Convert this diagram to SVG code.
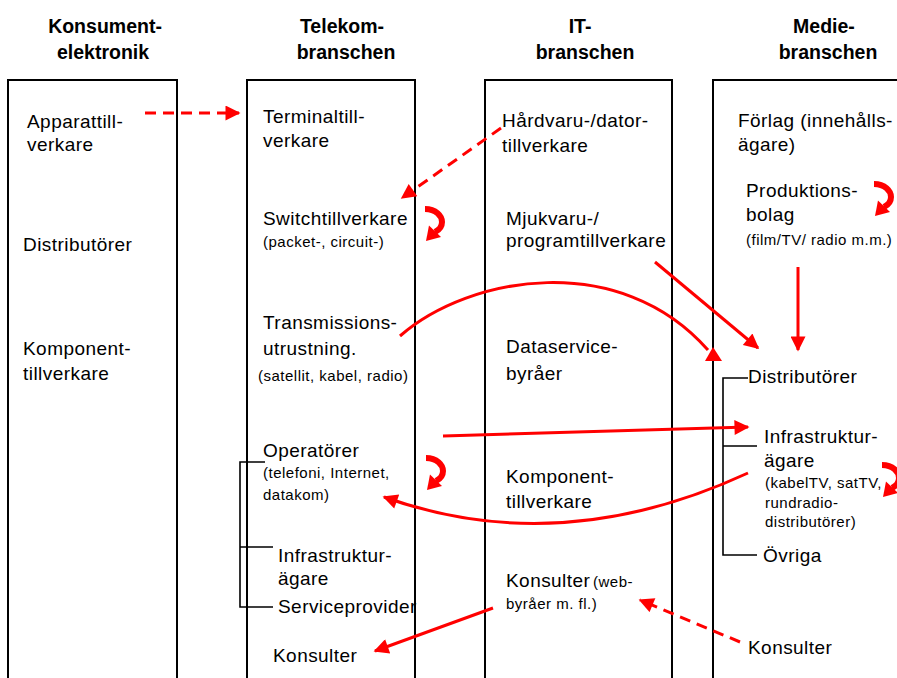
<svg xmlns="http://www.w3.org/2000/svg" width="897" height="678" viewBox="0 0 897 678">
  <style>
    .hdr { font-family: "Liberation Sans", Arial, sans-serif; font-weight: bold; font-size: 19.5px; fill: #000; text-anchor: middle; }
    .t { font-family: "Liberation Sans", Arial, sans-serif; font-size: 19px; letter-spacing: 0.45px; fill: #000; }
    .s { font-family: "Liberation Sans", Arial, sans-serif; font-size: 15px; letter-spacing: 0.5px; fill: #000; }
    .col { fill: none; stroke: #000; stroke-width: 2; }
    .br { fill: none; stroke: #000; stroke-width: 1.6; }
    .arr { fill: none; stroke: #ff0000; stroke-width: 3; marker-end: url(#head); }
    .dash { stroke-dasharray: 11 7; }
    .u { fill: none; stroke: #ff0000; stroke-width: 6; stroke-linecap: butt; }
  </style>
  <defs>
    <marker id="head" viewBox="0 0 10 10" refX="9" refY="5" markerWidth="17" markerHeight="15" markerUnits="userSpaceOnUse" orient="auto">
      <path d="M0,0 L10,5 L0,10 Z" fill="#ff0000"/>
    </marker>
    <!-- small U-turn arrow used in several columns -->
    <g id="uturn">
      <path class="u" d="M0,3 C11,3 17,10 17,16 C17,21 14,24 10,26"/>
      <polygon points="4,19.5 16,31 1,35" fill="#ff0000"/>
    </g>
  </defs>

  <!-- column headers -->
  <g id="headers">
    <text class="hdr" x="105" y="33">Konsument-</text>
    <text class="hdr" x="103" y="59">elektronik</text>
    <text class="hdr" x="342" y="33">Telekom-</text>
    <text class="hdr" x="346" y="59">branschen</text>
    <text class="hdr" x="580" y="33">IT-</text>
    <text class="hdr" x="585" y="59">branschen</text>
    <text class="hdr" x="824" y="33">Medie-</text>
    <text class="hdr" x="828" y="59">branschen</text>
  </g>

  <!-- column frames -->
  <g id="columns">
    <path class="col" d="M8,678 V80 H177 V678"/>
    <path class="col" d="M247,678 V80 H415 V678"/>
    <path class="col" d="M485,678 V80 H672 V678"/>
    <path class="col" d="M713,678 V80 H900"/>
  </g>

  <!-- Konsumentelektronik -->
  <g id="kons-apparat"><text class="t" x="27" y="128">Apparattill-</text><text class="t" x="27" y="151">verkare</text></g>
  <g id="kons-distributorer"><text class="t" x="23" y="251">Distributörer</text></g>
  <g id="kons-komponent"><text class="t" x="23" y="355">Komponent-</text><text class="t" x="23" y="380">tillverkare</text></g>

  <!-- Telekombranschen -->
  <g id="tel-terminal"><text class="t" x="263" y="123">Terminaltill-</text><text class="t" x="263" y="147">verkare</text></g>
  <g id="tel-switch"><text class="t" x="263" y="225">Switchtillverkare</text><text class="s" x="263" y="247">(packet-, circuit-)</text></g>
  <g id="tel-transmission"><text class="t" x="263" y="329">Transmissions-</text><text class="t" x="263" y="355">utrustning.</text><text class="s" x="258" y="381">(satellit, kabel, radio)</text></g>
  <g id="tel-operatorer"><text class="t" x="263" y="457">Operatörer</text><text class="s" x="263" y="478">(telefoni, Internet,</text><text class="s" x="263" y="500">datakom)</text></g>
  <g id="tel-infra"><text class="t" x="278" y="562">Infrastruktur-</text><text class="t" x="278" y="585">ägare</text></g>
  <g id="tel-service"><text class="t" x="278" y="613">Serviceprovider</text></g>
  <g id="tel-konsulter"><text class="t" x="273" y="662">Konsulter</text></g>
  <path id="tel-bracket" class="br" d="M265,462 H240 V607 H273 M240,547 H273"/>

  <!-- IT-branschen -->
  <g id="it-hardvara"><text class="t" x="502" y="127">Hårdvaru-/dator-</text><text class="t" x="502" y="152">tillverkare</text></g>
  <g id="it-mjukvara"><text class="t" x="506" y="225">Mjukvaru-/</text><text class="t" x="506" y="247">programtillverkare</text></g>
  <g id="it-dataservice"><text class="t" x="506" y="353">Dataservice-</text><text class="t" x="506" y="380">byråer</text></g>
  <g id="it-komponent"><text class="t" x="506" y="483">Komponent-</text><text class="t" x="506" y="508">tillverkare</text></g>
  <g id="it-konsulter"><text class="t" x="506" y="587">Konsulter</text><text class="s" x="593" y="587">(web-</text><text class="s" x="506" y="609">byråer m. fl.)</text></g>

  <!-- Mediebranschen -->
  <g id="med-forlag"><text class="t" x="738" y="127">Förlag (innehålls-</text><text class="t" x="738" y="151">ägare)</text></g>
  <g id="med-produktion"><text class="t" x="746" y="197">Produktions-</text><text class="t" x="746" y="221">bolag</text><text class="s" x="746" y="245">(film/TV/ radio m.m.)</text></g>
  <g id="med-distributorer"><text class="t" x="748" y="383">Distributörer</text></g>
  <g id="med-infra"><text class="t" x="764" y="443">Infrastruktur-</text><text class="t" x="764" y="467">ägare</text><text class="s" x="765" y="488">(kabelTV, satTV,</text><text class="s" x="765" y="508">rundradio-</text><text class="s" x="765" y="527">distributörer)</text></g>
  <g id="med-ovriga"><text class="t" x="763" y="562">Övriga</text></g>
  <g id="med-konsulter"><text class="t" x="748" y="654">Konsulter</text></g>
  <path id="med-bracket" class="br" d="M748,378 H723 V555 H757 M723,446 H757"/>

  <!-- connectors -->
  <g id="connectors">
    <path class="arr dash" d="M145,113 H239"/>
    <path class="arr dash" d="M501,128 L402,198"/>
    <path class="arr" d="M655,262 L758,348"/>
    <path class="arr" d="M798,267 V350"/>
    <path fill="none" stroke="#ff0000" stroke-width="3" d="M400,336 C470,275 620,250 708,350"/>
    <polygon points="713,347 722,361 705,361" fill="#ff0000"/>
    <path class="arr" d="M443,436 L748,427"/>
    <path class="arr" d="M748,473 Q560,560 384,497"/>
    <path class="arr" d="M493,608 L375,651"/>
    <path class="arr dash" d="M740,642 L640,600"/>
    <use href="#uturn" x="425" y="206"/>
    <use href="#uturn" x="874" y="181"/>
    <use href="#uturn" x="426" y="455"/>
    <use href="#uturn" x="882" y="462"/>
  </g>
</svg>
